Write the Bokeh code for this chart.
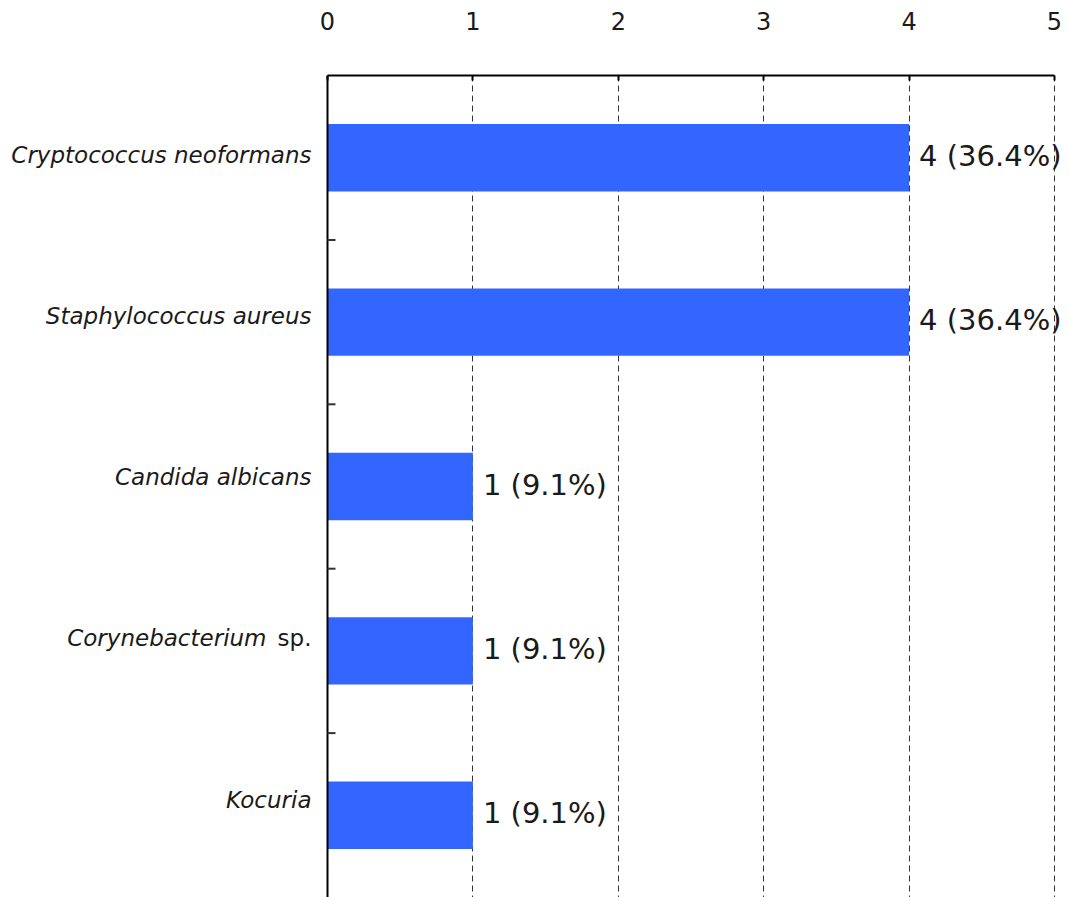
from bokeh.plotting import figure
from bokeh.models import Range1d, FixedTicker, ColumnDataSource
from bokeh.core.properties import value
from bokeh.embed import file_html
from bokeh.resources import INLINE

species = ["Cryptococcus neoformans", "Staphylococcus aureus", "Candida albicans",
           "Corynebacterium", "Kocuria"]
suffixes = ["", "", "", "sp.", ""]
counts = [4, 4, 1, 1, 1]
percents = [36.4, 36.4, 9.1, 9.1, 9.1]
x_ticks = [0, 1, 2, 3, 4, 5]

FONT = "DejaVu Sans"
n = len(species)
ypos = [i + 0.5 for i in range(n)]

# layout (pixels): where 0 and max tick land horizontally
W, H = 1069, 897
X0_PX, XMAX_PX = 327, 1054
ppu = (XMAX_PX - X0_PX) / (x_ticks[-1] - x_ticks[0])
x_start = x_ticks[0] - X0_PX / ppu
x_end = x_ticks[0] + (W - X0_PX) / ppu

p = figure(width=W, height=H, output_backend="svg", toolbar_location=None,
           x_range=Range1d(x_start, x_end), y_range=Range1d(n, 0),
           x_axis_location="above", y_axis_location=None,
           min_border_left=0, min_border_right=0, min_border_bottom=0, min_border_top=75)
p.outline_line_color = None

src = ColumnDataSource(dict(
    y=ypos, right=counts, zero=[0] * n, name=species,
    lab=[f"{c} ({pc}%)" for c, pc in zip(counts, percents)],
    noff=[-16 - (45 if s else 0) for s in suffixes],
    yoff=[-3 - 3.2 * i for i in range(n)],
))

p.hbar(y="y", left=0, right="right", height=0.41, source=src,
       fill_color="#3366FF", line_color=None)

# value labels
p.text(x="right", y="y", text="lab", source=src, x_offset=10, y_offset=-2,
       text_font=value(FONT), text_font_size="29px", text_color="#1a1a1a",
       text_baseline="middle", text_align="left")

# category labels
p.text(x="zero", y="y", text="name", source=src, x_offset="noff", y_offset="yoff",
       text_font=value(FONT), text_font_size="23px", text_font_style="italic",
       text_color="#1a1a1a", text_baseline="middle", text_align="right")
suf_idx = [i for i in range(n) if suffixes[i]]
suf_src = ColumnDataSource(dict(y=[ypos[i] for i in suf_idx],
                                suf=[suffixes[i] for i in suf_idx],
                                zero=[0] * len(suf_idx),
                                yoff=[-3 - 3.2 * i for i in suf_idx]))
p.text(x="zero", y="y", text="suf", source=suf_src, x_offset=-16, y_offset="yoff",
       text_font=value(FONT), text_font_size="23px",
       text_color="#1a1a1a", text_baseline="middle", text_align="right")

# left axis line and inward ticks at band boundaries
p.segment(x0=[0], y0=[0], x1=[0], y1=[n], line_color="black", line_width=2)
bounds = list(range(1, n))
p.ray(x=[0] * len(bounds), y=bounds, length=8, length_units="screen", angle=0,
      line_color="#333333", line_width=2)

# x axis (top)
xa = p.xaxis[0]
xa.ticker = FixedTicker(ticks=x_ticks)
xa.bounds = (x_ticks[0], x_ticks[-1])
xa.axis_line_width = 2
xa.axis_line_color = "black"
xa.major_tick_in = 5
xa.major_tick_out = 0
xa.major_tick_line_width = 2
xa.minor_tick_line_color = None
xa.major_label_standoff = 46
xa.major_label_text_font = FONT
xa.major_label_text_font_size = "24px"
xa.major_label_text_color = "#1a1a1a"

p.xgrid.ticker = FixedTicker(ticks=x_ticks[1:])
p.xgrid.grid_line_color = "#333333"
p.xgrid.grid_line_dash = "6 4"
p.xgrid.grid_line_width = 1
p.ygrid.grid_line_color = None

open("out.html", "w").write(file_html(p, INLINE))
